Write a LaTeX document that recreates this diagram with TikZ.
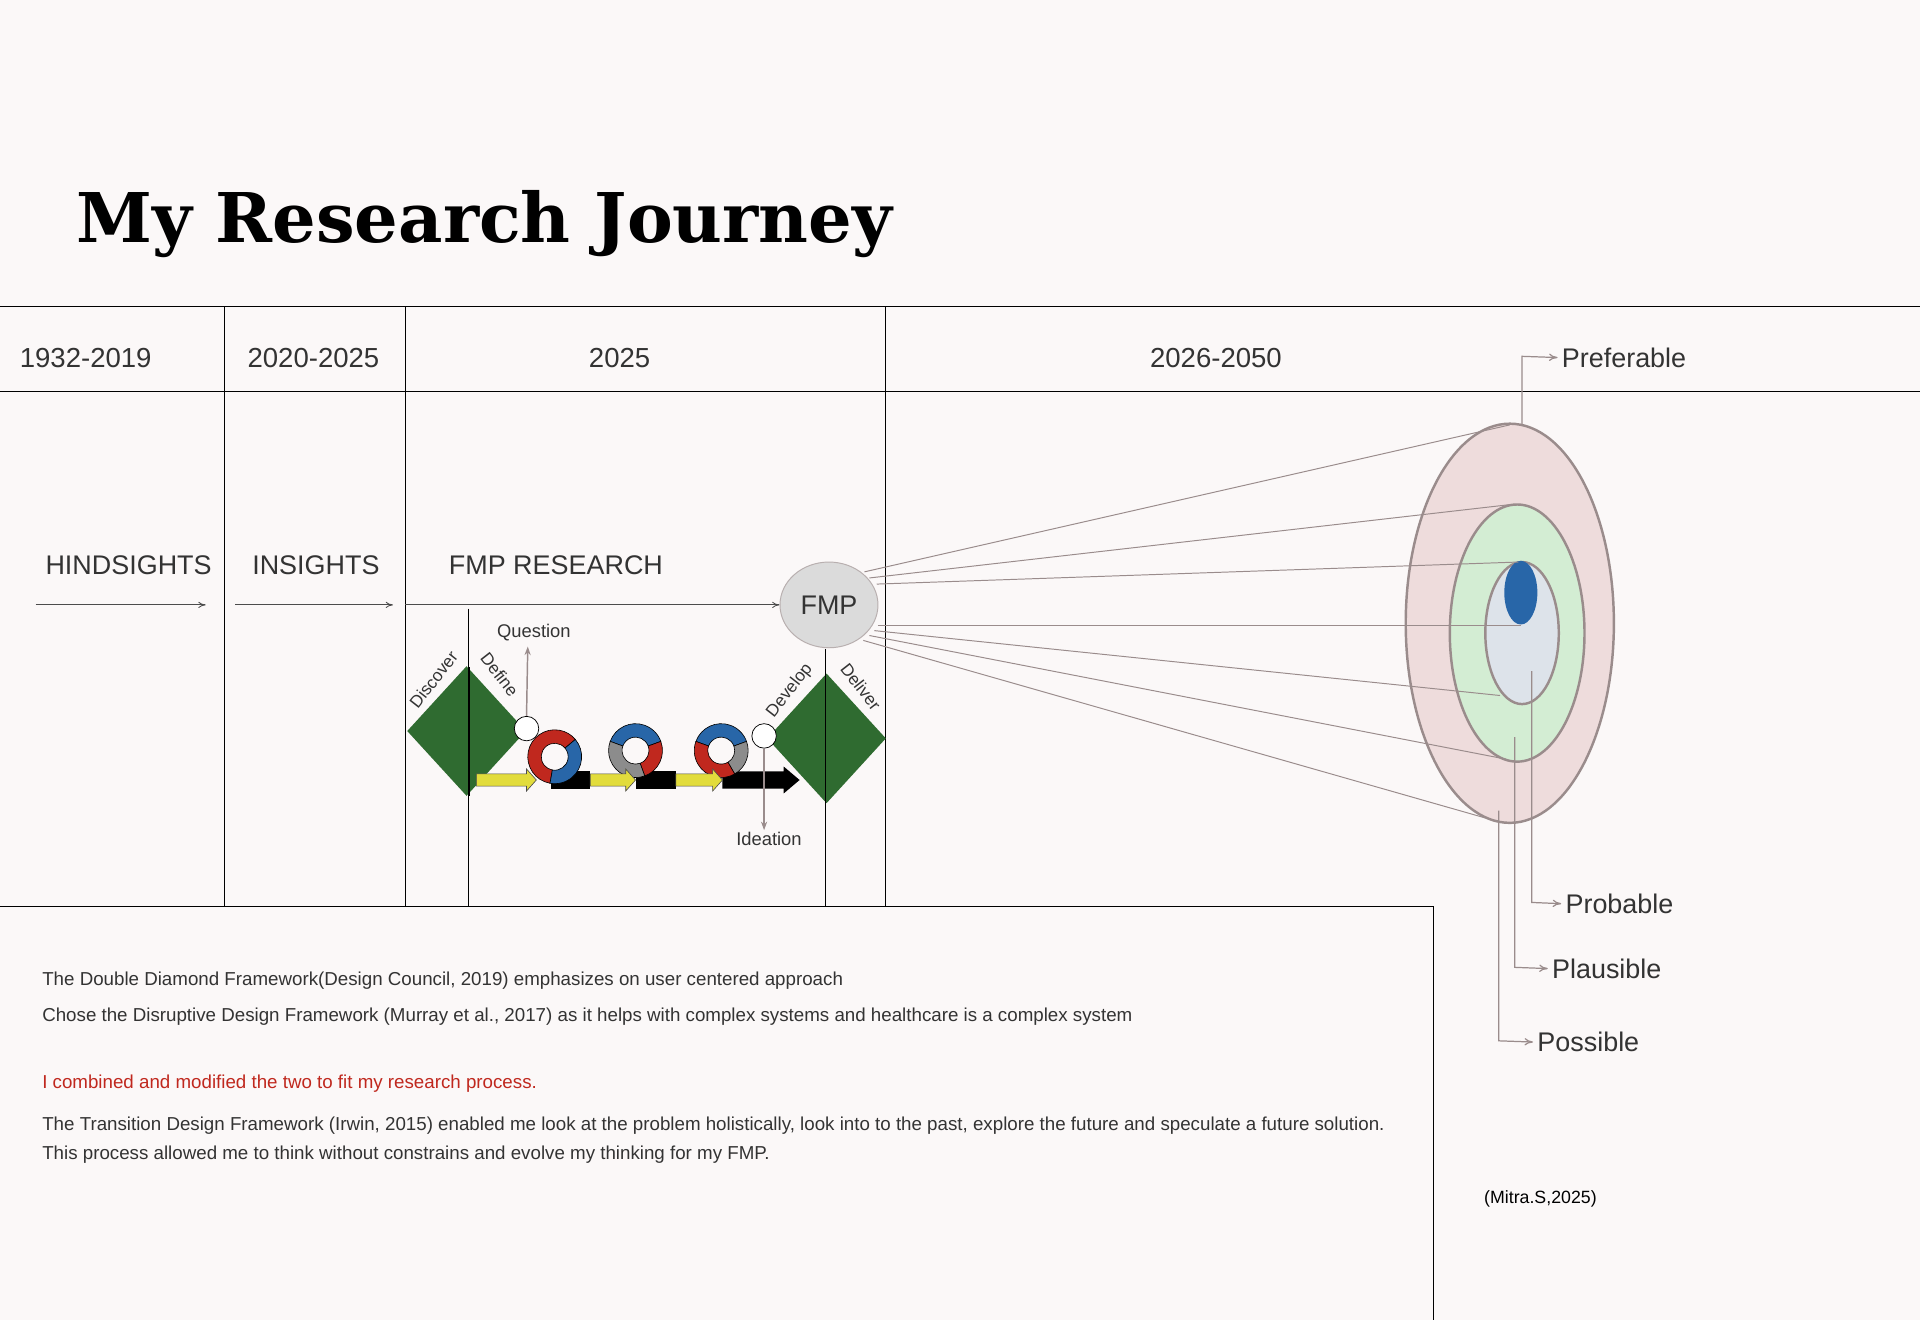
\documentclass[tikz,border=0pt]{standalone}
\usepackage{fontspec}
\setmainfont{Liberation Sans}
\newfontfamily\titlefont{DejaVu Serif}
\usetikzlibrary{arrows.meta,calc,shapes.geometric}
\definecolor{bg}{HTML}{FBF8F8}
\definecolor{txt}{HTML}{333333}
\definecolor{dgreen}{HTML}{2F6B30}
\definecolor{lgray}{HTML}{9A8C8C}
\definecolor{outerc}{HTML}{EEDCDC}
\definecolor{midc}{HTML}{D3EDD3}
\definecolor{innc}{HTML}{DDE3EA}
\definecolor{blu}{HTML}{2866A8}
\definecolor{redc}{HTML}{C0281E}
\definecolor{ylw}{HTML}{E2DC3C}
\tikzset{
 hdr/.style={font=\fontsize{22.5}{24}\selectfont,text=txt},
 lbl/.style={font=\fontsize{22}{24}\selectfont,text=txt},
 small/.style={font=\fontsize{15}{17}\selectfont,text=txt},
 body/.style={font=\fontsize{15.3}{17}\selectfont,text=txt,anchor=west},
 grid/.style={line width=0.8pt,black},
 arr/.style={-{To[length=6pt,width=5pt]},line width=0.7pt,black!70},
 garr/.style={-{Stealth[length=7pt,width=5pt]},line width=1.2pt,lgray},
 ray/.style={line width=0.8pt,lgray},
 call/.style={line width=1pt,lgray,-{To[length=7pt,width=6pt]}},
 dia/.style={diamond,fill=dgreen,minimum width=97pt,minimum height=106pt,inner sep=0pt},
 dlab/.style={font=\fontsize{14}{16}\selectfont,text=txt,inner sep=0pt},
}
\newcommand\ringseg[4]{\fill[#4,draw=black,line width=0.5pt] ($(#1)+(#2:22)$) arc (#2:#3:22) -- ($(#1)+(#3:11)$) arc (#3:#2:11) -- cycle;}
\begin{document}
\begin{tikzpicture}[x=1pt,y=-1pt]
\fill[bg] (0,0) rectangle (1568,1078);
\useasboundingbox (0,0) rectangle (1568,1078);
\node[anchor=west,inner sep=0,font=\titlefont\bfseries\fontsize{56}{60}\selectfont] (title) at (62,183) {My Research Journey};
% grid
\draw[grid] (0,250) -- (1568,250);
\draw[grid] (0,320) -- (1568,320);
\draw[grid] (183,250) -- (183,740);
\draw[grid] (331,250) -- (331,740);
\draw[grid] (723,250) -- (723,740);
\draw[grid] (383,497) -- (383,740);
\draw[grid] (674,530) -- (674,740);
\draw[grid] (0,740) -- (1171,740) -- (1171,1078);
% headers
\node[hdr] (h1) at (70,292) {1932-2019};
\node[hdr] (h2) at (256,292) {2020-2025};
\node[hdr] (h3) at (506,292) {2025};
\node[hdr] (h4) at (993,292) {2026-2050};
\node[lbl] (l1) at (105,462) {HINDSIGHTS};
\node[lbl] (l2) at (258,462) {INSIGHTS};
\node[lbl] (l3) at (454,462) {FMP RESEARCH};
% FMP
\node[ellipse,fill=black!14,draw=lgray!70,line width=0.8pt,minimum width=80pt,minimum height=70pt,font=\fontsize{22}{24}\selectfont,text=txt] (fmp) at (677,494) {FMP};
\coordinate (a1s) at (29,494); \coordinate (a1e) at (168,494);
\coordinate (a2s) at (192,494); \coordinate (a2e) at (321,494);
\coordinate (a3s) at (331,494);
\draw[arr] (a1s) -- (a1e);
\draw[arr] (a2s) -- (a2e);
\draw[arr] (a3s) -- (fmp.west);
% diamonds
\node[dia] (d1) at (381,597) {};
\node[dia] (d2) at (675,603) {};
\node[dlab,rotate=52] (disc) at (354,555) {Discover};
\node[dlab,rotate=-52] (def) at (408,551) {Define};
\node[dlab,rotate=52] (dev) at (645,564) {Develop};
\node[dlab,rotate=-52] (del) at (703,561) {Deliver};
% process arrows
\fill[black] (450,630) rectangle (482,644);
\fill[black] (519,630) rectangle (552,644);
\fill[black] (590,630) -- (640,630) -- (640,626) -- (653,637) -- (640,648) -- (640,644) -- (590,644) -- cycle;
% rings
\coordinate (r1) at (453,618); \coordinate (r2) at (519,613); \coordinate (r3) at (589,613);
\ringseg{r1}{100}{320}{redc}
\ringseg{r1}{-40}{100}{blu}
\ringseg{r2}{-160}{-20}{blu}
\ringseg{r2}{-20}{70}{redc}
\ringseg{r2}{70}{200}{black!45}
\ringseg{r3}{-160}{-20}{blu}
\ringseg{r3}{-20}{60}{black!45}
\ringseg{r3}{60}{200}{redc}
\foreach \a/\b in {389/438,482/519,552/590}{
 \filldraw[ylw,draw=black!70,line width=0.5pt] (\a,632) -- (\b-8,632) -- (\b-8,628) -- (\b,637) -- (\b-8,646) -- (\b-8,642) -- (\a,642) -- cycle;}
\draw[line width=1pt] (383,545) -- (383,650);
\draw[line width=1pt] (674,550) -- (674,657);
\node[circle,fill=white,draw=black,line width=0.6pt,minimum size=20pt,inner sep=0] (c1) at (430,595) {};
\node[circle,fill=white,draw=black,line width=0.6pt,minimum size=20pt,inner sep=0] (c2) at (624,601) {};
\node[small] (q) at (436,517) {Question};
\node[small] (id) at (628,685) {Ideation};
\draw[garr] (c1.north) -- (431,528);
\draw[garr] (c2.south) -- (624,678);
% cone
\node[ellipse,fill=outerc,draw=lgray,line width=2pt,minimum width=170pt,minimum height=326pt,inner sep=0] (e1) at (1233,509) {};
\node[ellipse,fill=midc,draw=lgray,line width=2pt,minimum width=110pt,minimum height=210pt,inner sep=0] (e2) at (1239,517) {};
\node[ellipse,fill=innc,draw=lgray,line width=2pt,minimum width=60pt,minimum height=116pt,inner sep=0] (e3) at (1243,517) {};
\node[ellipse,fill=blu,minimum width=27pt,minimum height=52pt,inner sep=0] (e4) at (1242,484) {};
\coordinate (p1) at (1233,347); \coordinate (p2) at (1234,412); \coordinate (p3) at (1240,459);
\coordinate (p4) at (1242,511); \coordinate (p5) at (1225,568); \coordinate (p6) at (1230,620); \coordinate (p7) at (1213,668);
\draw[ray] (706,467) -- (p1);
\draw[ray] (710,472) -- (p2);
\draw[ray] (716,477) -- (p3);
\draw[ray] (717,511) -- (p4);
\draw[ray] (714,515) -- (p5);
\draw[ray] (710,519) -- (p6);
\draw[ray] (705,523) -- (p7);
% callouts
\node[lbl,anchor=west] (pref) at (1272,292) {Preferable};
\node[lbl,anchor=west] (prob) at (1275,738) {Probable};
\node[lbl,anchor=west] (plau) at (1264,791) {Plausible};
\node[lbl,anchor=west] (poss) at (1252,851) {Possible};
\draw[call] (1243,347) -- (1243,291) -- (pref.west);
\draw[call] (1251,548) -- (1251,737) -- (prob.west);
\draw[call] (1237,602) -- (1237,790) -- (plau.west);
\draw[call] (1224,662) -- (1224,850) -- (poss.west);
% body text
\node[body] (t1) at (31,801) {The Double Diamond Framework(Design Council, 2019) emphasizes on user centered approach};
\node[body] (t2) at (31,830) {Chose the Disruptive Design Framework (Murray et al., 2017) as it helps with complex systems and healthcare is a complex system};
\node[body,text=redc] (t3) at (31,885) {I combined and modified the two to fit my research process.};
\node[body] (t4) at (31,919) {The Transition Design Framework (Irwin, 2015) enabled me look at the problem holistically, look into to the past, explore the future and speculate a future solution.};
\node[body] (t5) at (31,943) {This process allowed me to think without constrains and evolve my thinking for my FMP.};
\node[font=\fontsize{14.5}{16}\selectfont,text=black] (cite) at (1258,979) {(Mitra.S,2025)};
\end{tikzpicture}
\end{document}
